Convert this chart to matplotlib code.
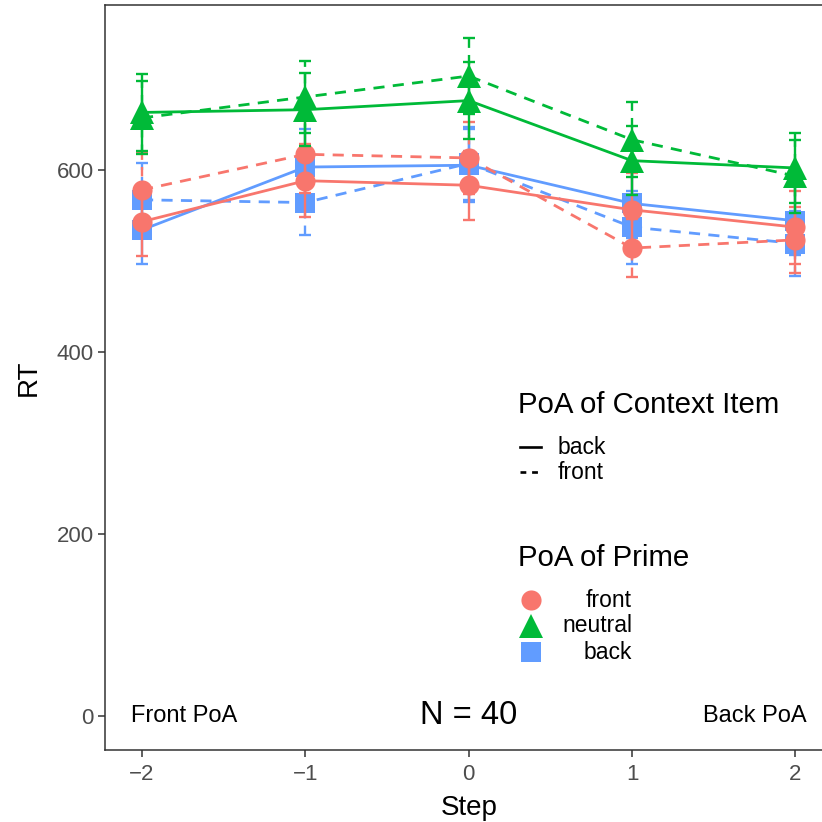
import matplotlib
matplotlib.use("Agg")
import matplotlib.pyplot as plt
from matplotlib.lines import Line2D

plt.rcParams['font.family'] = ['Liberation Sans', 'DejaVu Sans']

steps = [-2, -1, 0, 1, 2]
primes = ["front", "neutral", "back"]
contexts = ["back", "front"]

# mean RT[prime][context]
rt = {
    ("front", "back"):    [543, 588, 583, 556, 537],
    ("front", "front"):   [578, 617, 613, 514, 523],
    ("neutral", "back"):  [663, 666, 676, 610, 602],
    ("neutral", "front"): [657, 680, 703, 633, 593],
    ("back", "back"):     [534, 603, 605, 563, 544],
    ("back", "front"):    [567, 564, 607, 537, 519],
}
err = {
    ("front", "back"):    [38, 40, 38, 40, 40],
    ("front", "front"):   [40, 42, 40, 32, 36],
    ("neutral", "back"):  [42, 40, 42, 38, 38],
    ("neutral", "front"): [40, 40, 42, 41, 40],
    ("back", "back"):     [38, 42, 40, 38, 38],
    ("back", "front"):    [40, 36, 40, 40, 36],
}

colors = {"front": "#F8766D", "neutral": "#00BA38", "back": "#619CFF"}
markers = {"front": "o", "neutral": "^", "back": "s"}
msizes = {"front": 14.5, "neutral": 17.5, "back": 14}
dash = (0, (4, 3))
lstyles = {"back": "-", "front": dash}

fig = plt.figure(figsize=(8.22, 8.22), dpi=100)
ax = fig.add_axes([0.1277, 0.0876, 0.885, 0.9063])

for prime in ["back", "front", "neutral"]:
    for ctx in contexts:
        y = rt[(prime, ctx)]
        e = err[(prime, ctx)]
        c = colors[prime]
        eb = ax.errorbar(steps, y, yerr=e, fmt="none", ecolor=c, elinewidth=1.7,
                         capsize=4, capthick=1.7)
        for lc in eb[2]:
            lc.set_linestyle(lstyles[ctx])
        ax.plot(steps, y, color=c, linestyle=lstyles[ctx], linewidth=2.0,
                marker=markers[prime], markersize=msizes[prime],
                markeredgewidth=0)

ax.set_xlim(-2.227, 2.227)
ax.set_ylim(-37.4, 781)
ax.set_xticks(steps)
ax.set_xticklabels(["\u22122", "\u22121", "0", "1", "2"])
ax.set_yticks([0, 200, 400, 600])
ax.tick_params(axis="both", colors="#333333", labelcolor="#4D4D4D",
               labelsize=16, length=5, width=1.1)
ax.tick_params(axis="x", pad=5)
ax.tick_params(axis="y", pad=3)
for s in ax.spines.values():
    s.set_color("#333333")
    s.set_linewidth(1.1)
ax.set_xlabel("Step", fontsize=20, labelpad=7)
ax.set_ylabel("RT", fontsize=20, labelpad=11)

ax.text(-1.743, 0, "Front PoA", fontsize=17, ha="center", va="center")
ax.text(1.75, 0, "Back PoA", fontsize=17, ha="center", va="center")
ax.text(0, 0, "N = 40", fontsize=23.5, ha="center", va="center")

# legends (figure coordinates)
def fx(px):
    return px / 822.0

def fy(py):
    return 1 - py / 822.0

fig.text(fx(518), fy(405), "PoA of Context Item", fontsize=21.2, ha="left", va="center")
for label, ls, py in [("back", "-", 447), ("front", dash, 472)]:
    fig.add_artist(Line2D([fx(520), fx(541)], [fy(py), fy(py)], color="black",
                          linestyle=ls if ls == "-" else (0, (2.2, 2.2)), linewidth=1.9))
    fig.text(fx(558), fy(py), label, fontsize=16.5, ha="left", va="center")

fig.text(fx(518), fy(558), "PoA of Prime", fontsize=21.2, ha="left", va="center")
for prime, py in [("front", 600), ("neutral", 626), ("back", 652)]:
    fig.add_artist(Line2D([fx(531)], [fy(py)], color=colors[prime],
                          marker=markers[prime], markersize=msizes[prime],
                          markeredgewidth=0, linestyle="none"))
    fig.text(fx(632), fy(py), prime, fontsize=16.5, ha="right", va="center")

fig.savefig("out.png", dpi=100)
